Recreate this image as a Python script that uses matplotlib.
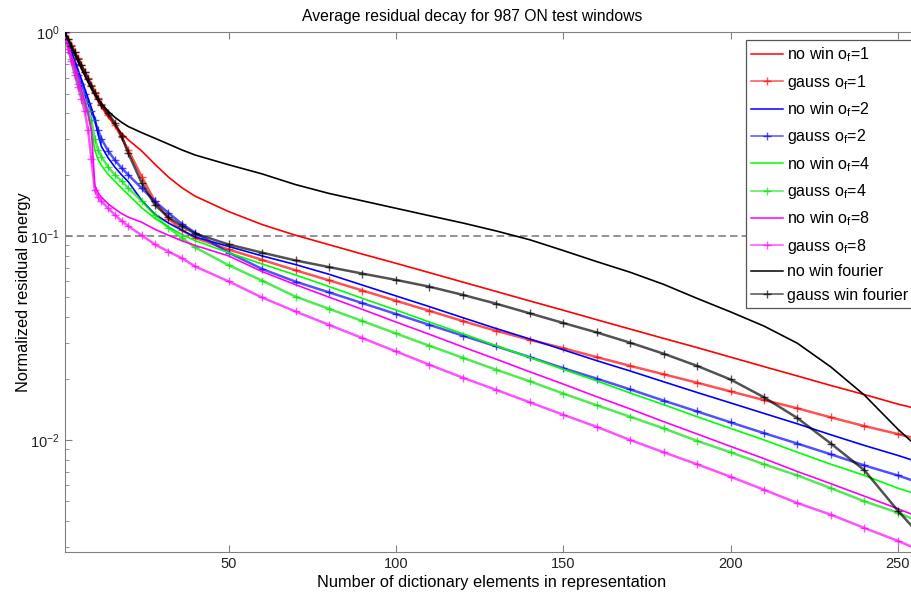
from matplotlib import pyplot as plt

# dictionary size sampled along the x axis
n_elem = [1, 2, 3, 4, 5, 6, 7, 8, 9, 10, 11, 12, 14, 16, 18, 20, 24, 28, 32, 36, 40,
          50, 60, 70, 80, 90, 100, 110, 120, 130, 140, 150, 160, 170, 180, 190, 200,
          210, 220, 230, 240, 250, 256]

# normalized residual energy
nowin_1 = [1.0, 0.92, 0.85, 0.78, 0.72, 0.665, 0.615, 0.57, 0.53, 0.49, 0.458, 0.43, 0.385,
           0.35, 0.32, 0.297, 0.262, 0.225, 0.195, 0.173, 0.157, 0.132, 0.114, 0.101,
           0.0908, 0.0816, 0.0736, 0.0662, 0.0595, 0.0535, 0.0481, 0.0433, 0.0389, 0.035,
           0.0315, 0.0284, 0.0255, 0.0229, 0.0206, 0.0185, 0.0167, 0.0150, 0.0142]
gauss_1 = [1.0, 0.93, 0.865, 0.80, 0.745, 0.69, 0.64, 0.595, 0.55, 0.51, 0.475, 0.445, 0.395,
           0.35, 0.305, 0.265, 0.196, 0.148, 0.122, 0.107, 0.098, 0.086, 0.0765, 0.068,
           0.0607, 0.0541, 0.0482, 0.0430, 0.0383, 0.0343, 0.0310, 0.0282, 0.0255, 0.0231,
           0.0210, 0.0191, 0.0173, 0.0157, 0.0143, 0.0129, 0.0117, 0.0107, 0.0101]
nowin_2 = [1.0, 0.90, 0.81, 0.73, 0.655, 0.59, 0.53, 0.475, 0.425, 0.375, 0.315, 0.275, 0.242,
           0.218, 0.200, 0.185, 0.150, 0.128, 0.116, 0.107, 0.099, 0.089, 0.080, 0.0725,
           0.065, 0.0575, 0.0509, 0.0451, 0.0398, 0.0352, 0.0313, 0.0277, 0.0245, 0.0218,
           0.0193, 0.0171, 0.0152, 0.0135, 0.0120, 0.0106, 0.0094, 0.0084, 0.0078]
gauss_2 = [1.0, 0.89, 0.79, 0.70, 0.62, 0.56, 0.50, 0.45, 0.41, 0.37, 0.33, 0.30, 0.262,
           0.236, 0.216, 0.200, 0.172, 0.148, 0.130, 0.115, 0.104, 0.083, 0.069, 0.0598,
           0.0530, 0.0469, 0.0415, 0.0367, 0.0325, 0.0288, 0.0255, 0.0225, 0.0200, 0.0177,
           0.0156, 0.0138, 0.0122, 0.0108, 0.0096, 0.0085, 0.0075, 0.0067, 0.0062]
nowin_4 = [1.0, 0.87, 0.76, 0.66, 0.575, 0.50, 0.44, 0.39, 0.33, 0.265, 0.237, 0.222, 0.201,
           0.186, 0.172, 0.160, 0.138, 0.122, 0.111, 0.102, 0.095, 0.083, 0.073, 0.0645,
           0.0566, 0.0495, 0.0434, 0.0379, 0.0332, 0.0290, 0.0254, 0.0222, 0.0195, 0.0170,
           0.0149, 0.0130, 0.0114, 0.0100, 0.0087, 0.0076, 0.0067, 0.0058, 0.0054]
gauss_4 = [1.0, 0.86, 0.74, 0.64, 0.56, 0.50, 0.45, 0.41, 0.37, 0.30, 0.265, 0.245, 0.218,
           0.200, 0.186, 0.172, 0.149, 0.127, 0.110, 0.098, 0.088, 0.072, 0.0605, 0.0505,
           0.0440, 0.0383, 0.0333, 0.0290, 0.0253, 0.0221, 0.0194, 0.0169, 0.0148, 0.0130,
           0.0114, 0.0099, 0.0087, 0.0076, 0.0067, 0.0058, 0.0050, 0.0044, 0.0040]
nowin_8 = [1.0, 0.88, 0.77, 0.68, 0.60, 0.52, 0.46, 0.40, 0.33, 0.178, 0.163, 0.155, 0.144,
           0.136, 0.129, 0.124, 0.117, 0.108, 0.101, 0.095, 0.090, 0.080, 0.067, 0.0578,
           0.0502, 0.0437, 0.0379, 0.0330, 0.0286, 0.0249, 0.0216, 0.0188, 0.0163, 0.0142,
           0.0123, 0.0107, 0.0093, 0.0081, 0.0070, 0.0061, 0.0053, 0.0046, 0.0042]
gauss_8 = [1.0, 0.83, 0.72, 0.62, 0.54, 0.47, 0.41, 0.33, 0.24, 0.168, 0.155, 0.148, 0.137,
           0.127, 0.119, 0.112, 0.101, 0.091, 0.084, 0.078, 0.071, 0.060, 0.050, 0.0427,
           0.0367, 0.0316, 0.0272, 0.0234, 0.0202, 0.0176, 0.0153, 0.0133, 0.0116, 0.0100,
           0.0087, 0.0076, 0.0066, 0.0057, 0.0049, 0.0043, 0.0037, 0.0032, 0.0029]
nowin_fourier = [1.0, 0.92, 0.85, 0.78, 0.72, 0.665, 0.615, 0.57, 0.53, 0.497, 0.47, 0.447,
                 0.41, 0.383, 0.362, 0.345, 0.322, 0.302, 0.283, 0.265, 0.25, 0.224, 0.202,
                 0.179, 0.162, 0.149, 0.137, 0.126, 0.116, 0.106, 0.096, 0.085, 0.075,
                 0.0665, 0.058, 0.0495, 0.0425, 0.0362, 0.0298, 0.0228, 0.0166, 0.0113, 0.0092]
gauss_fourier = [1.0, 0.93, 0.86, 0.80, 0.74, 0.69, 0.64, 0.59, 0.545, 0.505, 0.47, 0.44,
                 0.40, 0.36, 0.31, 0.255, 0.183, 0.142, 0.124, 0.112, 0.103, 0.091, 0.083,
                 0.076, 0.0705, 0.0655, 0.061, 0.0565, 0.0515, 0.0466, 0.0418, 0.0375, 0.0337,
                 0.0300, 0.0265, 0.0231, 0.0198, 0.0162, 0.0128, 0.0096, 0.0071, 0.0045, 0.0035]

labels = ['no win o$_f$=1', 'gauss o$_f$=1', 'no win o$_f$=2', 'gauss o$_f$=2',
          'no win o$_f$=4', 'gauss o$_f$=4', 'no win o$_f$=8', 'gauss o$_f$=8',
          'no win fourier', 'gauss win fourier']

#configure plot defaults
plt.rcParams['font.family'] = ['Liberation Sans', 'DejaVu Sans']
plt.rcParams['mathtext.default'] = 'regular'
plt.rcParams['font.size'] = 10.5

fig = plt.figure(figsize=(9.12, 5.94), dpi=100)
ax = fig.add_axes([0.0709, 0.0712, 0.9356, 0.8744])

#reference line at 10 % residual energy
ax.axhline(0.1, color='#808080', lw=1.2, dashes=(4.5, 2.5), zorder=1)

#add data to axes
series = [nowin_1, gauss_1, nowin_2, gauss_2, nowin_4, gauss_4, nowin_8, gauss_8,
          nowin_fourier, gauss_fourier]
colors = ['#ff0000', '#ff0000', '#0000ff', '#0000ff', '#00ff00', '#00e000',
          '#ff00ff', '#ff00ff', '#000000', '#000000']
for i in range(len(series)):
    if i % 2 == 0:
        ax.plot(n_elem, series[i], color=colors[i], lw=1.2, label=labels[i], zorder=2 + i)
    else:
        ax.plot(n_elem, series[i], color=colors[i], lw=1.8, alpha=0.68, marker='+',
                markersize=5.5, markeredgewidth=1.0, label=labels[i], zorder=2 + i)

#axes, ticks and labels
ax.set_yscale('log')
ax.set_xlim(1, 256)
ax.set_ylim(0.00283, 1)
ax.set_xticks([50, 100, 150, 200, 250])
for s in ax.spines.values():
    s.set_color('#808080')
ax.tick_params(which='both', direction='in', top=True, right=True, color='#808080',
               labelcolor='#222222')
ax.tick_params(which='major', length=5)
ax.tick_params(which='minor', length=3)
ax.set_xlabel('Number of dictionary elements in representation', fontsize=11.8, labelpad=3.5)
ax.set_ylabel('Normalized residual energy', fontsize=11.8, labelpad=-0.5)
ax.set_title('Average residual decay for 987 ON test windows', fontsize=11.3, x=0.4773, pad=8)

leg = ax.legend(loc='upper left', bbox_to_anchor=(0.7984, 0.985), borderaxespad=0,
                fancybox=False, edgecolor='#555555', framealpha=1, numpoints=1,
                fontsize=11.5, labelspacing=0.53, handlelength=2.0, handletextpad=0.25,
                borderpad=0.35)
leg.get_frame().set_linewidth(0.9)
for h in leg.legend_handles:
    h.set_linewidth(1.1)

plt.savefig('out.png', dpi=100)
plt.close()
